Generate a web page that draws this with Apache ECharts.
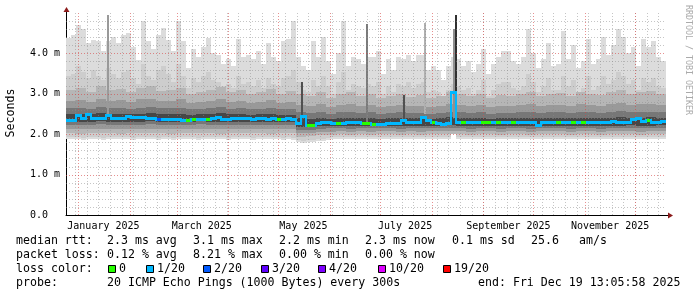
<!DOCTYPE html>
<html>
<head>
<meta charset="utf-8">
<script src="https://cdn.jsdelivr.net/npm/echarts@6/dist/echarts.min.js"></script>
<style>
html,body{margin:0;padding:0;background:#ffffff;}
#chart{width:697px;height:297px;}
</style>
</head>
<body>
<div id="chart"></div>
<script>
// ---------------- data ----------------
const endTime = '2025-12-19T13:05:58Z';
const spanDays = 360;
const fineBinDays = 3;     // 120 bins
const coarseBinDays = 6;   // 60 bins

const medianRtt = [
 2.35,2.35,2.47,2.40,2.49,2.41,2.40,2.39,2.48,2.39,
 2.40,2.41,2.44,2.43,2.42,2.43,2.40,2.39,2.38,2.38,
 2.37,2.38,2.37,2.36,2.36,2.37,2.37,2.38,2.37,2.39,
 2.42,2.38,2.38,2.40,2.40,2.41,2.39,2.38,2.40,2.39,
 2.38,2.39,2.37,2.38,2.39,2.37,2.28,2.45,2.22,2.23,
 2.27,2.30,2.29,2.28,2.27,2.28,2.29,2.30,2.29,2.28,
 2.27,2.26,2.25,2.26,2.27,2.28,2.28,2.35,2.30,2.29,
 2.31,2.42,2.35,2.29,2.28,2.25,2.28,3.05,2.30,2.29,
 2.29,2.30,2.30,2.29,2.30,2.30,2.31,2.30,2.29,2.31,
 2.29,2.30,2.30,2.31,2.22,2.29,2.30,2.31,2.29,2.30,
 2.30,2.29,2.30,2.31,2.30,2.31,2.30,2.31,2.30,2.32,
 2.31,2.30,2.30,2.37,2.40,2.33,2.35,2.30,2.31,2.33];

const medianLoss = [
 1,1,1,1,1,1,1,1,1,1,
 1,1,1,1,1,1,1,1,2,1,
 1,1,1,1,0,0,1,1,0,1,
 1,1,1,1,1,1,1,1,1,1,
 1,1,0,1,1,1,1,1,0,0,
 1,1,1,1,0,1,1,1,1,0,
 0,0,1,1,1,1,1,1,1,1,
 1,1,1,0,1,1,1,1,1,0,
 1,1,1,0,0,1,0,1,1,0,
 1,1,1,1,1,1,1,1,0,1,
 1,0,1,0,1,1,1,1,1,1,
 1,1,1,1,1,1,0,1,1,1];

const smokeMax = [
 4.38,4.46,4.70,4.60,4.25,4.33,4.30,4.05,4.30,4.40,
 4.25,4.45,4.50,4.15,3.84,4.80,4.30,4.10,4.45,4.62,
 4.33,4.05,4.80,4.30,3.63,4.12,3.92,4.15,4.38,4.00,
 3.95,3.75,3.85,3.70,4.35,3.90,3.95,3.85,4.05,3.75,
 4.25,3.90,3.80,4.30,4.35,4.80,3.90,3.70,3.60,4.30,
 3.90,4.40,3.80,3.50,4.00,4.80,3.70,3.90,3.85,3.75,
 3.90,3.90,4.05,3.50,3.85,3.60,3.90,3.85,3.95,3.80,
 3.95,3.95,3.60,3.70,3.60,3.35,3.70,3.90,3.85,3.70,
 3.80,3.55,3.75,4.10,3.50,3.75,3.90,4.05,4.05,3.80,
 3.75,3.90,4.60,4.00,3.65,3.85,4.25,3.70,3.75,4.55,
 3.85,4.20,3.65,3.80,4.35,3.75,3.85,4.40,3.95,4.20,
 4.60,4.40,4.00,4.15,3.70,4.35,4.15,4.30,3.90,3.80];

const smokeMin = [
 1.88,1.87,1.87,1.86,1.87,1.88,1.87,1.86,1.87,1.87,
 1.87,1.88,1.87,1.86,1.87,1.87,1.88,1.87,1.86,1.87,
 1.87,1.86,1.87,1.88,1.87,1.87,1.86,1.87,1.87,1.88,
 1.87,1.87,1.86,1.87,1.87,1.88,1.87,1.86,1.87,1.87,
 1.88,1.87,1.87,1.86,1.87,1.85,1.80,1.79,1.80,1.81,
 1.82,1.84,1.86,1.87,1.88,1.87,1.88,1.87,1.88,1.88,
 1.88,1.87,1.88,1.88,1.87,1.88,1.89,1.88,1.87,1.88,
 1.88,1.87,1.88,1.88,1.89,1.88,1.88,2.12,1.88,1.87,
 1.88,1.88,1.87,1.88,1.89,1.88,1.88,1.87,1.88,1.88,
 1.88,1.87,1.88,1.88,1.89,1.88,1.87,1.88,1.88,1.87,
 1.88,1.88,1.87,1.88,1.88,1.87,1.88,1.89,1.88,1.88,
 1.87,1.88,1.88,1.87,1.88,1.88,1.87,1.88,1.88,1.89];

const smoke2Hi = [
 3.45,3.50,3.70,3.55,3.40,3.60,3.45,3.35,3.65,3.50,
 3.40,3.55,3.60,3.40,3.25,3.75,3.45,3.35,3.60,3.70,
 3.50,3.30,3.75,3.45,3.15,3.40,3.30,3.45,3.55,3.35,
 3.30,3.20,3.25,3.15,3.45,3.25,3.30,3.20,3.35,3.15,
 3.40,3.25,3.20,3.40,3.45,3.60,3.30,3.10,3.05,3.35,
 3.20,3.45,3.20,3.00,3.30,3.55,3.10,3.25,3.20,3.15,
 3.25,3.20,3.30,3.00,3.20,3.05,3.25,3.20,3.30,3.15,
 3.25,3.30,3.05,3.10,3.05,2.95,3.10,3.25,3.20,3.10,
 3.15,3.00,3.10,3.35,2.95,3.10,3.25,3.30,3.30,3.15,
 3.10,3.20,3.50,3.30,3.05,3.20,3.40,3.10,3.10,3.45,
 3.20,3.35,3.05,3.15,3.45,3.10,3.20,3.45,3.25,3.35,
 3.55,3.45,3.25,3.35,3.10,3.40,3.30,3.40,3.20,3.15];

const smoke2Lo = [
 1.93,1.92,1.92,1.91,1.92,1.93,1.92,1.91,1.92,1.92,
 1.92,1.93,1.92,1.91,1.92,1.92,1.93,1.92,1.91,1.92,
 1.92,1.91,1.92,1.93,1.92,1.92,1.91,1.92,1.92,1.93,
 1.92,1.92,1.91,1.92,1.92,1.93,1.92,1.91,1.92,1.92,
 1.93,1.92,1.92,1.91,1.92,1.90,1.85,1.84,1.85,1.86,
 1.87,1.89,1.91,1.92,1.93,1.92,1.93,1.92,1.93,1.93,
 1.93,1.92,1.93,1.93,1.92,1.93,1.94,1.93,1.92,1.93,
 1.93,1.92,1.93,1.93,1.94,1.93,1.93,2.18,1.93,1.92,
 1.93,1.93,1.92,1.93,1.94,1.93,1.93,1.92,1.93,1.93,
 1.93,1.92,1.93,1.93,1.94,1.93,1.92,1.93,1.93,1.92,
 1.93,1.93,1.92,1.93,1.93,1.92,1.93,1.94,1.93,1.93,
 1.92,1.93,1.93,1.92,1.93,1.93,1.92,1.93,1.93,1.94];

const smoke3Hi = [
 3.10,3.15,3.05,3.20,3.10,3.12,3.05,3.15,3.20,3.08,
 3.10,3.15,3.00,3.05,3.10,3.18,3.05,3.10,3.00,3.05,
 3.12,3.00,3.08,3.00,2.95,3.05,2.90,3.00,3.05,2.95,
 3.00,2.90,2.95,3.00,2.92,2.98,2.90,2.95,3.05,3.00,
 2.95,3.00,2.90,2.98,2.95,3.00,3.05,2.95,3.00,3.02,
 2.95,3.05,3.00,2.98,3.05,3.10,3.00,3.05,3.08,3.00];
const smoke3Lo = [
 2.02,2.01,2.02,2.03,2.02,2.01,2.02,2.02,2.03,2.02,
 2.01,2.02,2.02,2.03,2.02,2.01,2.02,2.02,2.03,2.02,
 2.01,2.02,2.02,1.94,1.95,1.97,1.99,2.00,1.99,2.00,
 1.99,2.00,2.00,1.99,2.00,1.99,2.00,2.00,2.00,2.00,
 1.99,2.00,2.00,1.99,2.00,2.00,1.99,2.00,2.00,2.00,
 1.99,2.00,2.00,1.99,2.00,2.00,2.00,1.99,2.00,2.00];

const smoke4Hi = [
 2.82,2.85,2.80,2.88,2.83,2.84,2.80,2.86,2.88,2.82,
 2.83,2.86,2.78,2.80,2.82,2.87,2.80,2.83,2.78,2.80,
 2.84,2.78,2.80,2.72,2.70,2.74,2.68,2.72,2.74,2.70,
 2.72,2.68,2.70,2.72,2.69,2.71,2.68,2.70,2.74,2.72,
 2.70,2.72,2.68,2.71,2.70,2.72,2.74,2.70,2.72,2.73,
 2.70,2.74,2.72,2.71,2.74,2.76,2.72,2.74,2.75,2.72];
const smoke4Lo = [
 2.13,2.12,2.13,2.14,2.13,2.12,2.13,2.13,2.14,2.13,
 2.12,2.13,2.13,2.14,2.13,2.12,2.13,2.13,2.14,2.13,
 2.12,2.13,2.12,2.02,2.03,2.05,2.06,2.07,2.06,2.07,
 2.06,2.07,2.07,2.06,2.07,2.06,2.07,2.07,2.07,2.07,
 2.06,2.07,2.07,2.06,2.07,2.07,2.06,2.07,2.07,2.07,
 2.06,2.07,2.07,2.06,2.07,2.07,2.07,2.06,2.07,2.08];

const smoke5Hi = [
 2.64,2.66,2.63,2.68,2.65,2.65,2.63,2.66,2.68,2.64,
 2.64,2.66,2.62,2.63,2.64,2.67,2.63,2.64,2.62,2.63,
 2.65,2.62,2.62,2.55,2.52,2.55,2.51,2.54,2.55,2.53,
 2.54,2.51,2.53,2.54,2.52,2.53,2.51,2.53,2.56,2.54,
 2.53,2.54,2.51,2.53,2.53,2.54,2.55,2.53,2.54,2.55,
 2.53,2.55,2.54,2.53,2.55,2.57,2.54,2.55,2.56,2.54];
const smoke5Lo = [
 2.24,2.23,2.24,2.25,2.24,2.23,2.24,2.24,2.25,2.24,
 2.23,2.24,2.24,2.25,2.24,2.23,2.24,2.24,2.24,2.24,
 2.23,2.24,2.23,2.10,2.11,2.13,2.15,2.15,2.14,2.15,
 2.15,2.15,2.15,2.14,2.15,2.15,2.15,2.15,2.16,2.15,
 2.14,2.15,2.15,2.14,2.15,2.15,2.14,2.15,2.15,2.15,
 2.14,2.15,2.15,2.14,2.15,2.15,2.16,2.15,2.15,2.16];

const smoke6Hi = [
 2.50,2.51,2.49,2.53,2.50,2.51,2.49,2.51,2.53,2.50,
 2.50,2.51,2.48,2.49,2.50,2.52,2.49,2.50,2.48,2.49,
 2.50,2.48,2.48,2.41,2.38,2.40,2.38,2.40,2.41,2.39,
 2.40,2.38,2.39,2.40,2.39,2.40,2.38,2.40,2.42,2.40,
 2.39,2.40,2.38,2.40,2.39,2.40,2.41,2.39,2.40,2.41,
 2.39,2.41,2.40,2.39,2.41,2.43,2.40,2.41,2.42,2.41];
const smoke6Lo = [
 2.31,2.30,2.31,2.32,2.31,2.30,2.31,2.31,2.32,2.31,
 2.30,2.31,2.31,2.32,2.31,2.30,2.31,2.31,2.31,2.31,
 2.30,2.31,2.30,2.18,2.18,2.20,2.21,2.21,2.20,2.21,
 2.21,2.21,2.21,2.20,2.21,2.21,2.21,2.21,2.22,2.21,
 2.20,2.21,2.21,2.20,2.21,2.21,2.20,2.21,2.21,2.21,
 2.20,2.21,2.21,2.20,2.21,2.21,2.22,2.21,2.21,2.22];

const spikeTimes = ['2025-01-18T12:00Z','2025-05-15T00:00Z','2025-06-23T00:00Z','2025-07-15T08:00Z','2025-07-27T16:00Z','2025-08-14T12:00Z','2025-08-15T12:00Z'];
const spikeLo    = [2.50, 2.30, 2.30, 2.30, 2.50, 2.40, 2.25];
const spikeHi    = [4.95, 3.30, 4.73, 2.97, 4.75, 4.60, 4.95];
const spikeShade = ['#9a9a9a','#505050','#7a7a7a','#505050','#b0b0b0','#909090','#303030'];

const yTickValues = [0, 1, 2, 3, 4];
const yTickLabels = ['0.0  ', '1.0 m', '2.0 m', '3.0 m', '4.0 m'];
const xLabelDates = ['2025-01-16T00:00Z','2025-03-16T00:00Z','2025-05-16T00:00Z','2025-07-16T00:00Z','2025-09-16T00:00Z','2025-11-16T00:00Z'];
const xLabelTexts = ['January 2025','March 2025','May 2025','July 2025','September 2025','November 2025'];

const lossLevels = ['0','1/20','2/20','3/20','4/20','10/20','19/20'];
const lossCounts = [0, 1, 2, 3, 4, 10, 19];
const lossColors = ['#26ff00','#00b8ff','#0059ff','#5e00ff','#7e00ff','#dd00ff','#ff0000'];

const rttStats  = ['2.3 ms avg','3.1 ms max','2.2 ms min','2.3 ms now','0.1 ms sd','25.6','am/s'];
const lossStats = ['0.12 % avg','8.21 % max','0.00 % min','0.00 % now'];
const probeText = '20 ICMP Echo Pings (1000 Bytes) every 300s';
const endText   = 'end: Fri Dec 19 13:05:58 2025';

// ---------------- build ----------------
const DAY = 86400000;
const endT = Date.parse(endTime);
const startT = endT - spanDays * DAY;
const MONO = "'DejaVu Sans Mono', 'Liberation Mono', monospace";

function lossColor(n) {
  let c = lossColors[0];
  for (let i = 0; i < lossCounts.length; i++) if (n >= lossCounts[i]) c = lossColors[i];
  return c;
}
function binRows(lo, hi, binDays) {
  return hi.map((h, i) => [startT + i * binDays * DAY, startT + (i + 1) * binDays * DAY, lo[i], h]);
}
function bandSeries(lo, hi, binDays, color) {
  return {
    type: 'custom', silent: true, clip: true,
    encode: { x: [0, 1], y: [2, 3] },
    data: binRows(lo, hi, binDays),
    renderItem: function (params, api) {
      const a = api.coord([api.value(0), api.value(3)]);
      const b = api.coord([api.value(1), api.value(2)]);
      const x0 = Math.round(a[0]), x1 = Math.round(b[0]);
      const y0 = Math.round(a[1]), y1 = Math.round(b[1]);
      return { type: 'rect', shape: { x: x0, y: y0, width: x1 - x0, height: y1 - y0 }, style: { fill: color } };
    }
  };
}

const bands = [
  bandSeries(smokeMin, smokeMax, fineBinDays, '#dcdcdc'),
  bandSeries(smoke2Lo, smoke2Hi, fineBinDays, '#cdcdcd'),
  bandSeries(smoke3Lo, smoke3Hi, coarseBinDays, '#b6b6b6'),
  bandSeries(smoke4Lo, smoke4Hi, coarseBinDays, '#999999'),
  bandSeries(smoke5Lo, smoke5Hi, coarseBinDays, '#777777'),
  bandSeries(smoke6Lo, smoke6Hi, coarseBinDays, '#474747')
];

const spikeSeries = {
  type: 'custom', silent: true, clip: true,
  encode: { x: 0, y: [1, 2] },
  data: spikeTimes.map((t, i) => [Date.parse(t), spikeLo[i], spikeHi[i], i]),
  renderItem: function (params, api) {
    const a = api.coord([api.value(0), api.value(2)]);
    const b = api.coord([api.value(0), api.value(1)]);
    const x = Math.round(a[0]);
    return { type: 'rect', shape: { x: x - 1, y: Math.round(a[1]), width: 2, height: Math.round(b[1] - a[1]) },
             style: { fill: spikeShade[api.value(3)] } };
  }
};

// grid lines
const monthStarts = [];
for (let m = 0; m < 12; m++) monthStarts.push(Date.UTC(2025, m, 1));
const weekLines = [];
for (let t = Date.UTC(2024, 11, 30); t < endT; t += 7 * DAY) weekLines.push(t);
const minorY = [], majorY = [];
for (let i = 1; i < 25; i++) { if (i % 5 === 0) majorY.push(i / 5); else minorY.push(i / 5); }

function vGridSeries(times, color) {
  return {
    type: 'custom', silent: true, z: 3,
    encode: { x: 0 },
    data: times.map(t => [t]),
    renderItem: function (params, api) {
      const cs = params.coordSys;
      const x = Math.round(api.coord([api.value(0), 0])[0]) + 0.5;
      return { type: 'line', shape: { x1: x, y1: cs.y, x2: x, y2: cs.y + cs.height },
               style: { stroke: color, lineWidth: 1, lineDash: [1, 2] } };
    }
  };
}
function hGridSeries(vals, color) {
  return {
    type: 'custom', silent: true, z: 3,
    encode: { x: 0, y: 1 },
    data: vals.map(v => [startT, v]),
    renderItem: function (params, api) {
      const cs = params.coordSys;
      const y = Math.round(api.coord([startT, api.value(1)])[1]) + 0.5;
      return { type: 'line', shape: { x1: cs.x, y1: y, x2: cs.x + cs.width, y2: y },
               style: { stroke: color, lineWidth: 1, lineDash: [1, 2] } };
    }
  };
}
const GRID_MINOR = 'rgba(140,140,140,0.5)';
const GRID_MAJOR = 'rgba(215,70,70,0.6)';
const gridSeries = [
  vGridSeries(weekLines, GRID_MINOR),
  hGridSeries(minorY, GRID_MINOR),
  vGridSeries(monthStarts, GRID_MAJOR),
  hGridSeries(majorY, GRID_MAJOR)
];

const medianSeries = {
  type: 'custom', silent: true, clip: true, z: 4,
  encode: { x: [0, 1], y: 2 },
  data: medianRtt.map((v, i) => [startT + i * fineBinDays * DAY, startT + (i + 1) * fineBinDays * DAY, v, medianLoss[i], i > 0 ? medianRtt[i - 1] : v]),
  renderItem: function (params, api) {
    const a = api.coord([api.value(0), api.value(2)]);
    const b = api.coord([api.value(1), api.value(2)]);
    const x0 = Math.round(a[0]), x1 = Math.round(b[0]), y = Math.round(a[1]);
    const col = lossColor(api.value(3));
    const py = Math.round(api.coord([api.value(0), api.value(4)])[1]);
    const children = [{ type: 'rect', shape: { x: x0, y: y - 1, width: x1 - x0, height: 3 }, style: { fill: col } }];
    if (py !== y) {
      const top = Math.min(py, y) - 1, bot = Math.max(py, y) + 2;
      children.push({ type: 'rect', shape: { x: x0 - 1, y: top, width: 2, height: bot - top }, style: { fill: lossColors[1] } });
    }
    return { type: 'group', children: children };
  }
};

// legend graphics
const g = [];
function txt(x, y, s, extra) {
  g.push(Object.assign({ type: 'text', x: x, y: y, silent: true,
    style: { text: s, font: '11.6px ' + MONO, fill: '#000', align: 'left', verticalAlign: 'middle', textAlign: 'left', textVerticalAlign: 'middle' } }, extra || {}));
}
const rowY = [241, 255, 269, 283];
txt(16, rowY[0], 'median rtt:');
const rttX = [107, 193, 279, 365, 452, 531, 579];
rttStats.forEach((s, i) => txt(rttX[i], rowY[0], s));
txt(16, rowY[1], 'packet loss:');
lossStats.forEach((s, i) => txt(rttX[i], rowY[1], s));
txt(16, rowY[2], 'loss color:');
const boxX = [108, 146, 203, 261, 318, 378, 443];
lossLevels.forEach((s, i) => {
  g.push({ type: 'rect', silent: true, shape: { x: boxX[i] + 0.5, y: 265.5, width: 7, height: 7 },
           style: { fill: lossColors[i], stroke: '#000', lineWidth: 1 } });
  txt(boxX[i] + 11, rowY[2], s);
});
txt(16, rowY[3], 'probe:');
txt(107, rowY[3], probeText);
txt(478, rowY[3], endText);

// axis label / watermark
g.push({ type: 'text', x: 11, y: 113, rotation: Math.PI / 2, silent: true,
  style: { text: 'Seconds', font: '11.6px ' + MONO, fill: '#000', align: 'center', verticalAlign: 'middle', textAlign: 'center', textVerticalAlign: 'middle' } });
g.push({ type: 'text', x: 688, y: 60, rotation: -Math.PI / 2, silent: true,
  style: { text: 'RRDTOOL / TOBI OETIKER', font: '8.3px ' + MONO, fill: '#aaaaaa', align: 'center', verticalAlign: 'middle', textAlign: 'center', textVerticalAlign: 'middle' } });
// axis extensions and arrows
g.push({ type: 'line', silent: true, shape: { x1: 66.5, y1: 9, x2: 66.5, y2: 13 }, style: { stroke: '#000', lineWidth: 1 } });
g.push({ type: 'line', silent: true, shape: { x1: 666, y1: 215.5, x2: 670, y2: 215.5 }, style: { stroke: '#000', lineWidth: 1 } });
g.push({ type: 'polygon', silent: true, shape: { points: [[63.5, 12], [69.5, 12], [66.5, 7]] }, style: { fill: '#8b1a1a' } });
g.push({ type: 'polygon', silent: true, shape: { points: [[668, 212.5], [668, 218.5], [673, 215.5]] }, style: { fill: '#8b1a1a' } });

const chart = echarts.init(document.getElementById('chart'), null, { renderer: 'canvas' });
chart.setOption({
  animation: false,
  backgroundColor: '#ffffff',
  grid: { left: 66, top: 13, width: 600, height: 202, containLabel: false },
  xAxis: {
    type: 'value', min: startT, max: endT,
    axisLine: { show: true, lineStyle: { color: '#000', width: 1 } },
    axisTick: { show: false },
    splitLine: { show: false },
    axisLabel: {
      customValues: xLabelDates.map(d => Date.parse(d)),
      formatter: function (v) {
        const i = xLabelDates.map(d => Date.parse(d)).indexOf(v);
        return i >= 0 ? xLabelTexts[i] : '';
      },
      fontFamily: MONO, fontSize: 10, color: '#000', margin: 6
    }
  },
  yAxis: {
    type: 'value', min: 0, max: 5, interval: 1,
    axisLine: { show: true, lineStyle: { color: '#000', width: 1 } },
    axisTick: { show: false },
    splitLine: { show: false },
    axisLabel: {
      showMaxLabel: false,
      formatter: function (v) { const i = yTickValues.indexOf(v); return i >= 0 ? yTickLabels[i] : ''; },
      fontFamily: MONO, fontSize: 10, color: '#000', margin: 6
    }
  },
  series: bands.concat([spikeSeries], gridSeries, [medianSeries]),
  graphic: g
});
</script>
</body>
</html>
